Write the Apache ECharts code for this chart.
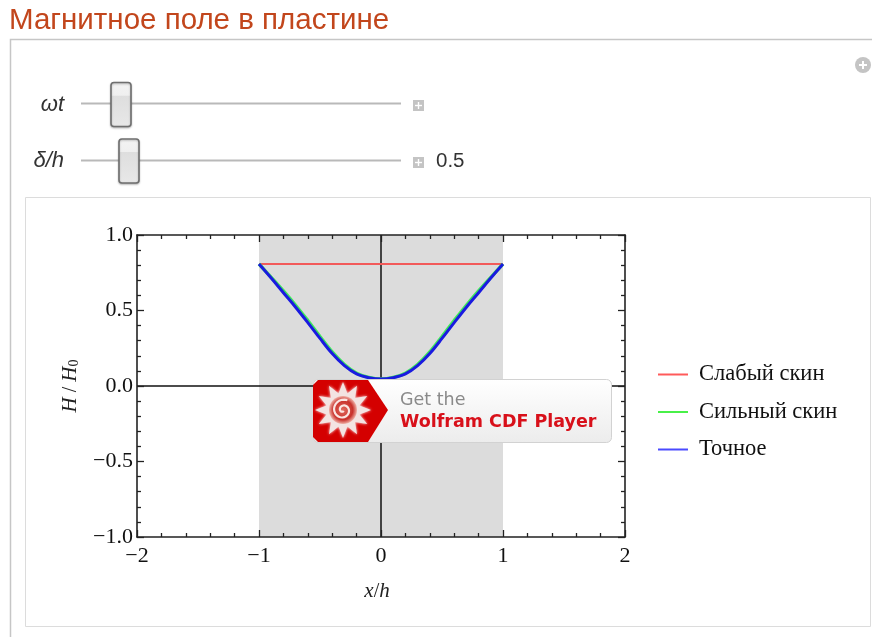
<!DOCTYPE html>
<html><head><meta charset="utf-8">
<style>html,body{margin:0;padding:0;background:#fff}#c{width:872px;height:637px}</style>
<script src="https://cdn.jsdelivr.net/npm/echarts@6/dist/echarts.min.js"></script>
</head><body><div id="c"></div>
<script>
const xValues   = [-1,-0.9,-0.8,-0.7,-0.6,-0.5,-0.4,-0.3,-0.2,-0.1,0,0.1,0.2,0.3,0.4,0.5,0.6,0.7,0.8,0.9,1];
const weakSkin  = [0.808,0.808,0.808,0.808,0.808,0.808,0.808,0.808,0.808,0.808,0.808,0.808,0.808,0.808,0.808,0.808,0.808,0.808,0.808,0.808,0.808];
const strongSkin= [0.808,0.72,0.63,0.535,0.433,0.328,0.226,0.143,0.085,0.057,0.046,0.057,0.085,0.143,0.226,0.328,0.433,0.535,0.63,0.72,0.808];
const exact     = [0.808,0.715,0.618,0.522,0.42,0.315,0.215,0.135,0.08,0.055,0.046,0.055,0.08,0.135,0.215,0.315,0.42,0.522,0.618,0.715,0.808];
const seriesNames = ['Слабый скин','Сильный скин','Точное'];
const pairs = ys => xValues.map((x,i)=>[x,ys[i]]);
const serif = '"Liberation Serif","DejaVu Serif",serif';
const sans = '"Liberation Sans",Arial,sans-serif';
const minus = v => String(v).replace('-','\u2212');

function thumb(x,y){return [
 {type:'rect',z:50,shape:{x:x,y:y,width:20,height:44,r:3},style:{fill:{type:'linear',x:0,y:0,x2:0,y2:1,colorStops:[{offset:0,color:'#f4f4f4'},{offset:.3,color:'#efefef'},{offset:.31,color:'#dedede'},{offset:1,color:'#e8e8e8'}],global:false},stroke:'#6f6f6f',lineWidth:1.6,shadowBlur:2,shadowColor:'rgba(0,0,0,.25)',shadowOffsetY:1}}
];}
function slider(y){return {type:'line',z:49,shape:{x1:81,y1:y,x2:401,y2:y},style:{stroke:'#b9b9b9',lineWidth:2}};}
function plus(cx,cy){return [
 {type:'rect',z:50,shape:{x:cx-5,y:cy-5,width:11,height:11},style:{fill:'#c4c4c4'}},
 {type:'line',z:51,shape:{x1:cx-3,y1:cy+.5,x2:cx+4,y2:cy+.5},style:{stroke:'#fff',lineWidth:1.4}},
 {type:'line',z:51,shape:{x1:cx+.5,y1:cy-3,x2:cx+.5,y2:cy+4},style:{stroke:'#fff',lineWidth:1.4}}
];}
// CDF badge emblem
const sun=[];
for(let i=0;i<24;i++){const a=i/24*Math.PI*2-Math.PI/2;const r=i%2?17:28;sun.push([343+r*Math.cos(a),410+r*Math.sin(a)]);}
const swirl=[];
for(let i=0;i<40;i++){const a=i/40*Math.PI*3.4;const r=1+i/40*10;swirl.push([343+r*Math.cos(a+1),410+r*Math.sin(a+1)]);}

const chrome=[
 {type:'text',z:40,style:{x:9,y:21,text:'Магнитное поле в пластине',font:'29.5px '+sans,fill:'#c2461c',verticalAlign:'middle'}},
 {type:'polyline',z:1,shape:{points:[[872,39.5],[10.5,39.5],[10.5,637]]},style:{stroke:'#c6c6c6',lineWidth:1.5,fill:'none'}},
 {type:'rect',z:1,shape:{x:25.5,y:197.5,width:845,height:429},style:{fill:'none',stroke:'#dcdcdc',lineWidth:1}},
 {type:'circle',z:40,shape:{cx:863,cy:65,r:8},style:{fill:'#c4c4c4'}},
 {type:'line',z:41,shape:{x1:859,y1:65,x2:867,y2:65},style:{stroke:'#fff',lineWidth:2}},
 {type:'line',z:41,shape:{x1:863,y1:61,x2:863,y2:69},style:{stroke:'#fff',lineWidth:2}},
 {type:'text',z:40,style:{x:64,y:105,text:'ωt',font:'italic 22px '+sans,fill:'#333',align:'right',verticalAlign:'middle'}},
 {type:'text',z:40,style:{x:64,y:161,text:'δ/h',font:'italic 22px '+sans,fill:'#333',align:'right',verticalAlign:'middle'}},
 slider(103.5),slider(160.5),
 ...thumb(111,82.5),...thumb(119,139),
 ...plus(418,105),...plus(418,162),
 {type:'text',z:40,style:{x:436,y:161.5,text:'0.5',font:'20.5px '+sans,fill:'#333',verticalAlign:'middle'}},
 // badge
 {type:'rect',z:60,shape:{x:313.5,y:379.5,width:298,height:63,r:5},style:{fill:{type:'linear',x:0,y:0,x2:0,y2:1,colorStops:[{offset:0,color:'#ffffff'},{offset:1,color:'#ececec'}]},stroke:'#d2d2d2',lineWidth:1}},
 {type:'polygon',z:61,shape:{points:[[318,380],[368,380],[388,410],[368,442],[318,442],[313,437],[313,385]]},style:{fill:'#d40000'}},
 {type:'polygon',z:62,shape:{points:sun},style:{fill:'#f3e4e2',shadowBlur:3,shadowColor:'#ffffff'}},
 {type:'circle',z:63,shape:{cx:343,cy:410,r:14},style:{fill:{type:'radial',x:.5,y:.5,r:.5,colorStops:[{offset:0,color:'#e06a5e'},{offset:.7,color:'#c8302a'},{offset:1,color:'#efb0a6'}]}}},
 {type:'polyline',z:64,shape:{points:swirl},style:{fill:'none',stroke:'#fbe6e2',lineWidth:2.2}},
 {type:'text',z:65,style:{x:400,y:400,text:'Get the',font:'17.5px "DejaVu Sans",sans-serif',fill:'#8a8a8a',verticalAlign:'middle'}},
 {type:'text',z:65,style:{x:400,y:422,text:'Wolfram CDF Player',font:'bold 17.5px "DejaVu Sans",sans-serif',fill:'#d8101a',verticalAlign:'middle'}}
];

const tick=(len)=>({show:true,inside:true,length:len,lineStyle:{color:'#222',width:1.3}});
const minor=(len,n)=>({show:true,splitNumber:n,length:len,lineStyle:{color:'#222',width:1.3}});
const axisLine={show:true,onZero:false,lineStyle:{color:'#222',width:1.6}};
const labelFont={fontFamily:serif,fontSize:22,color:'#111'};
const nameRich={i:{fontFamily:serif,fontStyle:'italic',fontSize:21,color:'#222'},n:{fontFamily:serif,fontSize:20,color:'#222'},s:{fontFamily:serif,fontSize:14,color:'#222',verticalAlign:'bottom',padding:[7,0,0,0]}};

const option={
 animation:false,backgroundColor:'#fff',
 grid:{left:137,top:235,width:488,height:302,containLabel:false},
 graphic:{elements:chrome},
 legend:{orient:'vertical',left:653,top:358,itemWidth:30,itemHeight:2,itemGap:14.5,icon:'rect',
   textStyle:{fontFamily:serif,fontSize:22.5,color:'#111',padding:[0,0,3,6]},
   data:seriesNames.map((n,i)=>({name:n,itemStyle:{color:['#ff5a5a','#48f048','#4a4aff'][i]}}))},
 xAxis:[
  {type:'value',position:'bottom',min:-2,max:2,interval:1,z:10,axisLine,axisTick:tick(7),minorTick:minor(4,5),splitLine:{show:false},minorSplitLine:{show:false},
   axisLabel:{...labelFont,margin:8,formatter:minus,showMinLabel:true,showMaxLabel:true,hideOverlap:false},
   name:'{i|x}{n|/}{i|h}',nameLocation:'middle',nameGap:44,nameTextStyle:{rich:nameRich,padding:[0,8,0,0]}},
  {type:'value',position:'top',min:-2,max:2,interval:1,z:10,axisLine,axisTick:tick(7),minorTick:minor(4,5),splitLine:{show:false},axisLabel:{show:false}}
 ],
 yAxis:[
  {type:'value',position:'left',min:-1,max:1,interval:0.5,z:10,axisLine,axisTick:tick(7),minorTick:minor(4,5),splitLine:{show:false},minorSplitLine:{show:false},
   axisLabel:{...labelFont,margin:4,formatter:v=>minus(v.toFixed(1)),showMinLabel:true,showMaxLabel:true,hideOverlap:false},
   name:'{i|H}{n| / }{i|H}{s|0}',nameLocation:'middle',nameRotate:90,nameGap:56,nameTextStyle:{rich:nameRich}},
  {type:'value',position:'right',min:-1,max:1,interval:0.5,z:10,axisLine,axisTick:tick(7),minorTick:minor(4,5),splitLine:{show:false},axisLabel:{show:false}}
 ],
 series:[
  {name:seriesNames[0],type:'line',z:3,showSymbol:false,symbol:'none',data:pairs(weakSkin),itemStyle:{color:'#ff5a5a'},lineStyle:{color:'#f25a5a',width:2},
   markArea:{silent:true,z:1,itemStyle:{color:'#dcdcdc',opacity:1},data:[[{xAxis:-1,yAxis:-1},{xAxis:1,yAxis:1}]]},
   markLine:{silent:true,z:2,symbol:'none',label:{show:false},animation:false,lineStyle:{color:'#111',width:1.5,type:'solid'},data:[{xAxis:0},{yAxis:0}]}},
  {name:seriesNames[1],type:'line',z:4,showSymbol:false,symbol:'none',smooth:0.35,data:pairs(strongSkin),itemStyle:{color:'#48f048'},lineStyle:{color:'#3ee85a',width:3.4}},
  {name:seriesNames[2],type:'line',z:5,showSymbol:false,symbol:'none',smooth:0.35,data:pairs(exact),itemStyle:{color:'#4a4aff'},lineStyle:{color:'#1a1ae0',width:3}}
 ]
};
echarts.init(document.getElementById('c')).setOption(option);
</script></body></html>
